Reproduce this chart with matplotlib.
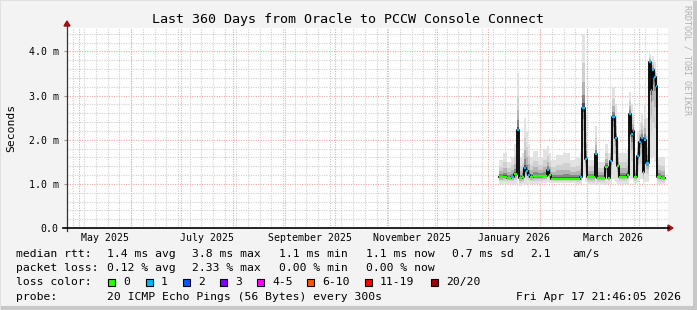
import matplotlib.pyplot as plt
from matplotlib.patches import Rectangle, Polygon
from matplotlib.lines import Line2D
from datetime import datetime, timedelta

W, H = 697, 310
start = datetime(2025, 4, 23, 14, 0)
span_days = 360

# median rtt segments (day offset from start, value in ms)
seg_days = [258.6, 261.0, 263.4, 265.8, 267.6, 269.4, 270.6, 272.4, 273.6, 274.8,
            276.0, 277.2, 279.0, 282.0, 285.0, 287.4, 288.6, 289.8, 293.0, 297.0,
            301.0, 305.0, 307.2, 308.4, 310.0, 311.4, 316.2, 317.4, 322.2, 324.0,
            325.2, 326.4, 328.2, 329.4, 330.6, 335.4, 336.6, 337.8, 339.0, 339.6,
            341.4, 342.6, 343.8, 345.0, 345.6, 346.8, 348.6, 349.8, 350.4, 351.6,
            352.8, 353.4, 356.0]
seg_end = 358.2
median = [1.15, 1.16, 1.14, 1.15, 1.22, 2.22, 1.13, 1.15, 1.36, 1.28,
          1.20, 1.15, 1.17, 1.17, 1.17, 1.31, 1.20, 1.12, 1.12, 1.12,
          1.12, 1.12, 1.15, 2.72, 1.56, 1.16, 1.67, 1.14, 1.39, 1.14,
          1.52, 2.52, 2.03, 1.40, 1.16, 1.20, 2.58, 2.13, 2.20, 1.16,
          1.63, 1.95, 2.03, 1.27, 1.99, 1.48, 3.76, 3.12, 3.57, 3.42,
          3.21, 1.16, 1.13]
smoke_lo = [1.00, 1.00, 1.00, 1.00, 1.00, 1.10, 0.95, 0.98, 1.00, 1.00,
            1.00, 1.00, 1.00, 1.00, 1.02, 1.05, 1.02, 1.02, 1.02, 1.02,
            1.02, 1.00, 1.00, 1.20, 1.05, 0.98, 1.00, 0.98, 1.00, 1.00,
            1.00, 1.10, 1.05, 1.00, 1.00, 1.00, 1.10, 1.10, 1.05, 1.00,
            1.05, 1.10, 1.10, 1.00, 1.05, 1.05, 1.60, 1.50, 1.60, 1.50,
            1.40, 1.00, 1.00]
smoke_hi = [1.55, 1.70, 1.50, 1.60, 1.90, 3.50, 1.60, 1.70, 2.50, 2.20,
            1.90, 1.60, 1.75, 1.60, 1.80, 1.85, 1.70, 1.55, 1.65, 1.70,
            1.55, 1.60, 1.70, 4.40, 2.60, 1.55, 2.30, 1.50, 1.90, 1.70,
            2.00, 3.20, 2.80, 2.00, 1.70, 1.80, 3.08, 2.80, 2.60, 1.60,
            2.20, 2.40, 2.60, 2.30, 2.80, 2.50, 3.94, 3.80, 3.90, 3.75,
            3.50, 1.60, 1.60]
loss = [0, 0, 0, 1, 0, 1, 0, 0, 1, 1,
        1, 0, 0, 0, 0, 1, 0, 0, 0, 0,
        0, 0, 1, 1, 1, 0, 1, 0, 0, 0,
        1, 1, 1, 0, 0, 0, 1, 1, 1, 0,
        1, 1, 1, 0, 1, 1, 1, 1, 1, 1,
        1, 0, 0]

y_ticks = [0, 1, 2, 3, 4]
y_labels = ['0.0', '1.0 m', '2.0 m', '3.0 m', '4.0 m']
loss_names = ['0', '1', '2', '3', '4-5', '6-10', '11-19', '20/20']
loss_colors = ['#26ff00', '#00b8ff', '#0059ff', '#7e00ff', '#ff00ff', '#ff5500', '#ff0000', '#a10000']

mono = 'DejaVu Sans Mono'
fig = plt.figure(figsize=(W / 100, H / 100), dpi=100, facecolor='#f3f3f3')


def px(x, y):
    return (x / W, 1 - y / H)


ax = fig.add_axes([67 / W, 1 - 228 / H, 601 / W, 200 / H])
ax.set_facecolor('white')
ax.set_xlim(0, span_days)
ax.set_ylim(0, 4.53)
for s in ax.spines.values():
    s.set_visible(False)

minor_col = '#cfcfcf'
major_col = '#f2a6a6'
dots = (0, (1, 1.2))

# grid: weekly minor, monthly major
d = datetime(2025, 4, 27)
while d < start + timedelta(days=span_days):
    t = (d - start).total_seconds() / 86400
    if t > 0:
        ax.axvline(t, color=minor_col, lw=0.8, ls=dots, zorder=1)
    d += timedelta(days=7)
for v in [i * 0.2 for i in range(1, 23)]:
    if abs(v - round(v)) > 0.01:
        ax.axhline(v, color=minor_col, lw=0.8, ls=dots, zorder=1)

month_starts = []
y, m = 2025, 5
while True:
    ms = datetime(y, m, 1)
    if ms > start + timedelta(days=span_days + 31):
        break
    month_starts.append(ms)
    m += 1
    if m > 12:
        y, m = y + 1, 1
for ms in month_starts:
    t = (ms - start).total_seconds() / 86400
    if t < span_days:
        ax.axvline(t, color=major_col, lw=0.8, ls=dots, zorder=1.5)
for v in y_ticks[1:]:
    ax.axhline(v, color=major_col, lw=0.8, ls=dots, zorder=1.5)

# x labels in the middle of every second month
xt, xl = [], []
for i in range(0, len(month_starts) - 1, 2):
    a, b = month_starts[i], month_starts[i + 1]
    mid = a + (b - a) / 2
    xt.append((mid - start).total_seconds() / 86400)
    xl.append(a.strftime('%B %Y'))
ax.set_xticks(xt)
ax.set_xticklabels(xl, fontfamily=mono, fontsize=7.1)
ax.tick_params(axis='x', length=0, pad=3.5)
ax.set_yticks(y_ticks)
ax.set_yticklabels(y_labels, fontfamily=mono, fontsize=7.1)
ax.tick_params(axis='y', length=2, color='#999999', pad=4)

# smoke
edges = seg_days + [seg_end]
shades = [(1.0, '#e2e2e2'), (0.6, '#d0d0d0'), (0.35, '#b4b4b4'), (0.17, '#888888'), (0.06, '#505050')]
for frac, col in shades:
    up = [md + frac * (h - md) for md, h in zip(median, smoke_hi)]
    lo = [md - frac * (md - l) for md, l in zip(median, smoke_lo)]
    ax.fill_between(edges, lo + [lo[-1]], up + [up[-1]], step='post', color=col, lw=0, zorder=2)

ax.step(edges, median + [median[-1]], where='post', color='black', lw=1.3, zorder=3)
for i, md in enumerate(median):
    ax.hlines(md, edges[i], edges[i + 1], color=loss_colors[loss[i]], lw=1.6, zorder=4)

# axis lines with arrows
fig.add_artist(Line2D([px(67, 0)[0]] * 2, [px(0, 231)[1], px(0, 26)[1]], color='#333333', lw=0.9))
fig.add_artist(Line2D([px(63, 0)[0], px(669, 0)[0]], [px(0, 228)[1]] * 2, color='black', lw=1.2))
fig.add_artist(Polygon([px(64, 26), px(70, 26), px(67, 21)], closed=True, color='#a01010'))
fig.add_artist(Polygon([px(668, 225), px(668, 231), px(673, 228)], closed=True, color='#a01010'))

# frame
fig.add_artist(Rectangle((0, 0), 1, 4 / H, color='#c8c8c8', lw=0))
fig.add_artist(Rectangle((1 - 4 / W, 0), 4 / W, 1, color='#c8c8c8', lw=0))
fig.add_artist(Rectangle((0, 1 - 1 / H), 1, 1 / H, color='#e0e0e0', lw=0))
fig.add_artist(Rectangle((0, 0), 1 / W, 1, color='#e0e0e0', lw=0))

fig.text(*px(348, 19), 'Last 360 Days from Oracle to PCCW Console Connect',
         ha='center', va='center', fontfamily=mono, fontsize=9.6)
fig.text(*px(11, 128), 'Seconds', rotation=90, ha='center', va='center', fontfamily=mono, fontsize=8.2)
fig.text(*px(687, 5), 'RRDTOOL / TOBI OETIKER', rotation=270, ha='center', va='top',
         fontfamily=mono, fontsize=6, color='#b0b0b0')

rows = [
    (254, [(16, 'median rtt:'), (107, '1.4 ms avg'), (192, '3.8 ms max'), (279, '1.1 ms min'),
           (366, '1.1 ms now'), (452, '0.7 ms sd'), (530, '2.1'), (572, 'am/s')]),
    (268, [(16, 'packet loss:'), (107, '0.12 % avg'), (192, '2.33 % max'), (279, '0.00 % min'),
           (366, '0.00 % now')]),
    (282, [(16, 'loss color:')]),
    (297, [(16, 'probe:'), (107, '20 ICMP Echo Pings (56 Bytes) every 300s')]),
]
for yy, items in rows:
    for xx, s in items:
        fig.text(*px(xx, yy), s, ha='left', va='center', fontfamily=mono, fontsize=8.2)
fig.text(*px(681, 297), 'Fri Apr 17 21:46:05 2026', ha='right', va='center', fontfamily=mono, fontsize=8.2)

box_x = [108, 146, 183, 220, 257, 307, 365, 431]
for bx, name, col in zip(box_x, loss_names, loss_colors):
    fig.add_artist(Rectangle(px(bx, 285.5), 7 / W, 7 / H, facecolor=col, edgecolor='black', lw=0.8))
    fig.text(*px(bx + 15, 282), name, ha='left', va='center', fontfamily=mono, fontsize=8.2)

fig.savefig('out.png', dpi=100, facecolor=fig.get_facecolor())
